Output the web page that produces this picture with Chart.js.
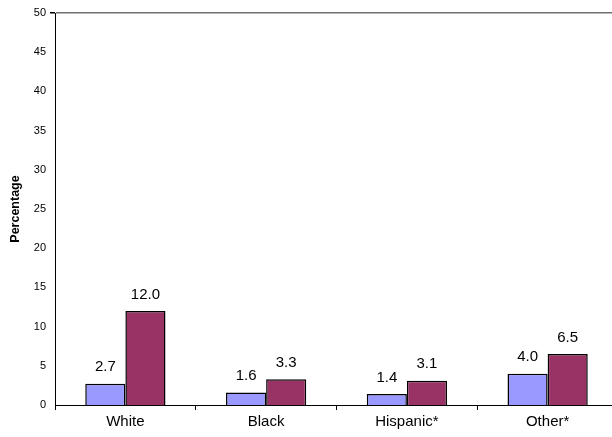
<!DOCTYPE html>
<html>
<head>
<meta charset="utf-8">
<script src="https://cdn.jsdelivr.net/npm/chart.js@4/dist/chart.umd.min.js"></script>
<style>
  html, body { margin: 0; padding: 0; background: #fff; overflow: hidden; }
  #wrap { width: 619px; height: 437px; }
</style>
</head>
<body>
<div id="wrap"><canvas id="chart"></canvas></div>
<script>
const categories = ['White', 'Black', 'Hispanic*', 'Other*'];
const seriesA = [2.7, 1.6, 1.4, 4.0];
const seriesB = [12.0, 3.3, 3.1, 6.5];
const yTicks = [0, 5, 10, 15, 20, 25, 30, 35, 40, 45, 50];

const FONT = '"Liberation Sans", Arial, sans-serif';

// draws the value above each bar
const valueLabels = {
    id: 'valueLabels',
    afterDatasetsDraw(chart) {
        const ctx = chart.ctx;
        ctx.save();
        ctx.font = '15px ' + FONT;
        ctx.fillStyle = '#000';
        ctx.textAlign = 'center';
        ctx.textBaseline = 'bottom';
        chart.data.datasets.forEach((ds, i) => {
            chart.getDatasetMeta(i).data.forEach((bar, j) => {
                ctx.fillText(ds.data[j].toFixed(1), bar.x, bar.y - 9);
            });
        });
        ctx.restore();
    }
};

new Chart(document.getElementById('chart').getContext('2d'), {
    type: 'bar',
    data: {
        labels: categories,
        datasets: [
            {
                data: seriesA,
                backgroundColor: '#9999FF',
                borderColor: '#000',
                borderWidth: 1.5,
                borderSkipped: 'bottom'
            },
            {
                data: seriesB,
                backgroundColor: '#993366',
                borderColor: '#000',
                borderWidth: 1.5,
                borderSkipped: 'bottom'
            }
        ]
    },
    options: {
        responsive: true,
        maintainAspectRatio: false,
        animation: false,
        layout: { padding: { top: 13, right: 1, left: 0, bottom: 0 } },
        datasets: {
            bar: { categoryPercentage: 0.57, barPercentage: 1.0 }
        },
        plugins: {
            legend: { display: false },
            tooltip: { enabled: false }
        },
        scales: {
            x: {
                offset: true,
                grid: {
                    offset: true,
                    drawOnChartArea: false,
                    tickLength: 5,
                    tickColor: '#000'
                },
                border: { color: '#000', width: 1 },
                ticks: {
                    color: '#000',
                    padding: 3,
                    font: { family: FONT, size: 15 }
                },
                afterFit(scale) { scale.height = 32; }
            },
            y: {
                min: 0,
                max: 50,
                afterBuildTicks(scale) {
                    scale.ticks = yTicks.map(v => ({ value: v }));
                },
                grid: {
                    color: c => (c.tick && c.tick.value === 50 ? '#707070' : 'rgba(0,0,0,0)'),
                    lineWidth: c => (c.tick && c.tick.value === 50 ? 1.5 : 0),
                    tickColor: '#000',
                    tickLength: 5
                },
                border: { color: '#000', width: 1 },
                ticks: {
                    color: '#000',
                    padding: 4,
                    font: { family: FONT, size: 11 }
                },
                title: {
                    display: true,
                    text: 'Percentage',
                    color: '#000',
                    padding: { top: 8, bottom: 0 },
                    font: { family: FONT, size: 12.5, weight: 'bold' }
                },
                afterFit(scale) { scale.width = 55; }
            }
        }
    },
    plugins: [valueLabels]
});
</script>
</body>
</html>
